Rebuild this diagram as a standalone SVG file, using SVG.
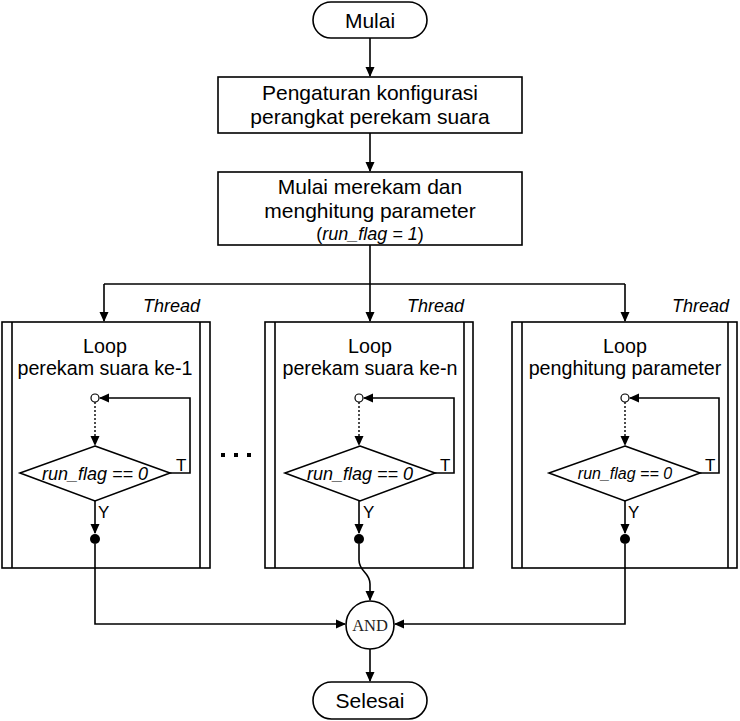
<svg xmlns="http://www.w3.org/2000/svg" width="740" height="721" viewBox="0 0 740 721">
<style>
.s{fill:#fff;stroke:#000;stroke-width:1.6}
.l{fill:none;stroke:#000;stroke-width:1.6}
.d{fill:none;stroke:#000;stroke-width:1.4;stroke-dasharray:2 2}
.t{font-family:"Liberation Sans",Arial,sans-serif;font-size:21px;fill:#000;text-anchor:middle}
.lp{font-size:19.7px}
.i{font-family:"Liberation Sans",Arial,sans-serif;font-style:italic;font-size:18px;fill:#000}
.n{font-family:"Liberation Sans",Arial,sans-serif;font-size:17px;fill:#000}
.m{font-family:"Liberation Serif","Times New Roman",serif;font-size:16.5px;fill:#222;text-anchor:middle}
</style>
<defs>
<marker id="a" markerWidth="10" markerHeight="10" refX="9" refY="5" orient="auto" markerUnits="userSpaceOnUse">
<path d="M0,0.5 L10,5 L0,9.5 Z" fill="#000"/>
</marker>
</defs>
<g id="start">
<rect class="s" x="313" y="2" width="114" height="36" rx="18"/>
<text class="t" x="370" y="28">Mulai</text>
</g>
<g id="config">
<rect class="s" x="218" y="77" width="304" height="56"/>
<text class="t" x="370" y="100">Pengaturan konfigurasi</text>
<text class="t" x="370" y="124">perangkat perekam suara</text>
</g>
<g id="record">
<rect class="s" x="218" y="172" width="304" height="73"/>
<text class="t" x="370" y="194">Mulai merekam dan</text>
<text class="t" x="370" y="218">menghitung parameter</text>
<text class="t" x="370" y="240" style="font-size:18px">(<tspan font-style="italic">run_flag = 1</tspan>)</text>
</g>
<g id="thread1">
<rect class="s" x="2" y="322" width="208" height="246"/>
<path class="l" d="M12,322 V568 M200,322 V568"/>
<text class="i" x="200" y="312" text-anchor="end">Thread</text>
<text class="t lp" x="105" y="353">Loop</text>
<text class="t lp" x="105" y="375">perekam suara ke-1</text>
<circle cx="95" cy="398" r="4" fill="#fff" stroke="#000" stroke-width="1.2"/>
<path class="s" d="M95,446 L170,473 L95,501 L20,473 Z"/>
<text class="i" x="95" y="480" text-anchor="middle">run_flag == 0</text>
<text class="n" x="176" y="471">T</text>
<text class="n" x="98" y="518">Y</text>
<circle cx="95" cy="539" r="5" fill="#000"/>
</g>
<g id="ellipsis">
<rect x="221" y="453" width="4" height="4" fill="#000"/>
<rect x="234" y="453" width="4" height="4" fill="#000"/>
<rect x="247" y="453" width="4" height="4" fill="#000"/>
</g>
<g id="threadn">
<rect class="s" x="265" y="322" width="208" height="246"/>
<path class="l" d="M275,322 V568 M464,322 V568"/>
<text class="i" x="464" y="312" text-anchor="end">Thread</text>
<text class="t lp" x="370" y="353">Loop</text>
<text class="t lp" x="370" y="375">perekam suara ke-n</text>
<circle cx="359" cy="398" r="4" fill="#fff" stroke="#000" stroke-width="1.2"/>
<path class="s" d="M360,446 L435,473 L360,501 L285,473 Z"/>
<text class="i" x="360" y="480" text-anchor="middle">run_flag == 0</text>
<text class="n" x="440" y="471">T</text>
<text class="n" x="363" y="518">Y</text>
<circle cx="359" cy="539" r="5" fill="#000"/>
</g>
<g id="threadp">
<rect class="s" x="512" y="322" width="225" height="246"/>
<path class="l" d="M522,322 V568 M728,322 V568"/>
<text class="i" x="729" y="312" text-anchor="end">Thread</text>
<text class="t lp" x="625" y="353">Loop</text>
<text class="t lp" x="625" y="375">penghitung parameter</text>
<circle cx="625" cy="398" r="4" fill="#fff" stroke="#000" stroke-width="1.2"/>
<path class="s" d="M625,446 L700,473 L625,501 L549,473 Z"/>
<text class="i" x="625" y="479" text-anchor="middle" style="font-size:16px">run_flag == 0</text>
<text class="n" x="705" y="471">T</text>
<text class="n" x="628" y="518">Y</text>
<circle cx="625" cy="539" r="5" fill="#000"/>
</g>
<g id="and">
<circle class="s" cx="370" cy="625" r="24"/>
<text class="m" x="370" y="631">AND</text>
</g>
<g id="end">
<rect class="s" x="313" y="682" width="114" height="37" rx="18.5"/>
<text class="t" x="370" y="708">Selesai</text>
</g>
<g id="connectors">
<path class="l" d="M370,38 V76" marker-end="url(#a)"/>
<path class="l" d="M370,133 V171" marker-end="url(#a)"/>
<path class="l" d="M370,245 V284"/>
<path class="l" d="M104,284 H625"/>
<path class="l" d="M104,284 V321" marker-end="url(#a)"/>
<path class="l" d="M370,284 V321" marker-end="url(#a)"/>
<path class="l" d="M625,284 V321" marker-end="url(#a)"/>
<path class="l" d="M170,473 H190 V398 H100" marker-end="url(#a)"/>
<path class="d" d="M95,402 V445" marker-end="url(#a)"/>
<path class="l" d="M95,501 V533" marker-end="url(#a)"/>
<path class="l" d="M435,473 H454 V398 H364" marker-end="url(#a)"/>
<path class="d" d="M359,402 V445" marker-end="url(#a)"/>
<path class="l" d="M359,501 V533" marker-end="url(#a)"/>
<path class="l" d="M700,473 H719 V398 H630" marker-end="url(#a)"/>
<path class="d" d="M625,402 V445" marker-end="url(#a)"/>
<path class="l" d="M625,501 V533" marker-end="url(#a)"/>
<path class="l" d="M95,544 V624 H345" marker-end="url(#a)"/>
<path class="l" d="M625,544 V624 H395" marker-end="url(#a)"/>
<path class="l" d="M359,544 V560 C359,572 370,572 370,584 V600" marker-end="url(#a)"/>
<path class="l" d="M370,649 V681" marker-end="url(#a)"/>
</g>
</svg>
